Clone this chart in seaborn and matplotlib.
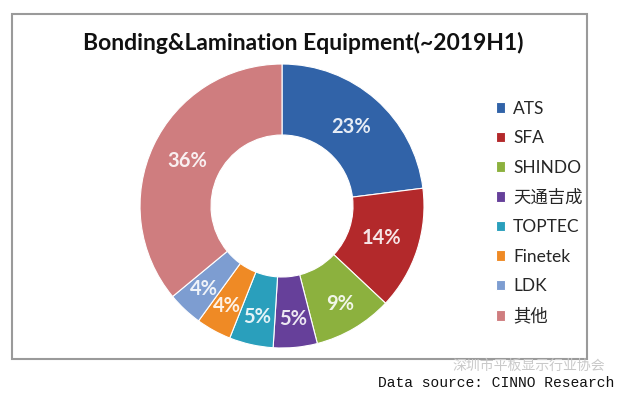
import matplotlib
matplotlib.use("Agg")
import matplotlib.pyplot as plt
import matplotlib.patches as mpatches
import matplotlib.colors as mcolors
import seaborn as sns

companies = ["ATS", "SFA", "SHINDO", "天通吉成", "TOPTEC", "Finetek", "LDK", "其他"]
shares = [23, 14, 9, 5, 5, 4, 4, 36]
colors = ["#3163a8", "#b3292b", "#8cb13e", "#66409a", "#2a9fbc", "#ef8a25", "#7d9dd1", "#cf7d7f"]

sns.set_theme(style="white")
plt.rcParams["font.family"] = ["Lato", "Noto Sans CJK SC", "DejaVu Sans"]

fig = plt.figure(figsize=(6.24, 3.97), dpi=100)
fig.patch.set_facecolor("white")

# chart frame
fig.patches.append(mpatches.Rectangle((12 / 624, 1 - 359 / 397), 575 / 624, 345 / 397,
                                      transform=fig.transFigure, fill=False,
                                      edgecolor="#9a9a9a", linewidth=1.5))

ax = fig.add_axes([0.2244, 0.1234, 0.4551, 0.7154])
pal = sns.color_palette(colors)
wedges, texts, autotexts = ax.pie(
    shares, colors=pal, startangle=90, counterclock=False,
    wedgeprops=dict(width=0.5, edgecolor="white", linewidth=0.8),
    autopct="%d%%", pctdistance=0.74,
)
for t, c, v in zip(autotexts, colors, shares):
    rgb = mcolors.to_rgb(c)
    tint = tuple(1 - 0.12 * (1 - x) for x in rgb)
    t.set_color(tint)
    t.set_fontsize(14.5)
    t.set_fontweight("bold")
    if v < 10:
        # small slices carry their labels further out
        x, y = t.get_position()
        t.set_position((x * 0.80 / 0.74, y * 0.80 / 0.74))
ax.set_xlim(-1, 1)
ax.set_ylim(-1, 1)
ax.set_aspect("equal")
ax.axis("off")

fig.text(303 / 624, 1 - 43 / 397, "Bonding&Lamination Equipment(~2019H1)",
         ha="center", va="center", fontsize=16.5, fontweight="bold", color="#111111")

leg = fig.legend(wedges, companies, loc="upper left",
                 bbox_to_anchor=(487 / 624, 1 - 92 / 397), frameon=False,
                 fontsize=12.5, handlelength=0.55, handleheight=0.55,
                 handletextpad=0.45, labelspacing=0.78, borderpad=0)

fig.text(605 / 624, 1 - 366 / 397, "深圳市平板显示行业协会", ha="right", va="center",
         fontsize=10, color="#c9c9c9", family=["Noto Sans CJK SC"])
fig.text(614 / 624, 1 - 383 / 397, "Data source: CINNO Research", ha="right", va="center",
         fontsize=10.5, color="#111111", family=["Liberation Mono"])

fig.savefig("out.png", dpi=100)
